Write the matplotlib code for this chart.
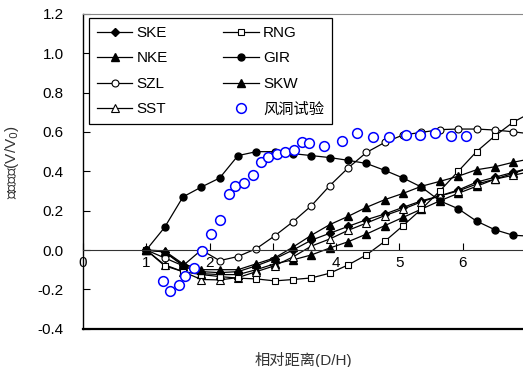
import matplotlib
matplotlib.use("Agg")
import matplotlib.pyplot as plt
from matplotlib.ticker import FormatStrFormatter

plt.rcParams['font.family'] = ['Liberation Sans', 'Noto Sans CJK SC']
plt.rcParams['font.size'] = 10

dist = [1.00, 1.29, 1.58, 1.87, 2.16, 2.45, 2.74, 3.03, 3.32, 3.61, 3.90,
        4.19, 4.48, 4.77, 5.06, 5.35, 5.64, 5.93, 6.22, 6.51, 6.80, 7.09]

ske = [0, -0.01, -0.075, -0.11, -0.115, -0.11, -0.08, -0.045, 0.0, 0.05, 0.085,
       0.12, 0.154, 0.183, 0.217, 0.25, 0.275, 0.305, 0.345, 0.37, 0.395, 0.42]
nke = [0, -0.01, -0.08, -0.12, -0.125, -0.125, -0.10, -0.07, -0.05, -0.025, 0.01,
       0.042, 0.081, 0.124, 0.166, 0.208, 0.25, 0.288, 0.324, 0.36, 0.39, 0.42]
szl = [0, -0.04, -0.08, 0.0, -0.054, -0.033, 0.007, 0.072, 0.144, 0.225, 0.327,
       0.417, 0.496, 0.547, 0.585, 0.598, 0.612, 0.615, 0.615, 0.61, 0.601, 0.59]
sst = [0, -0.075, -0.11, -0.15, -0.152, -0.14, -0.11, -0.08, -0.035, 0.02, 0.056,
       0.10, 0.137, 0.175, 0.208, 0.245, 0.275, 0.30, 0.335, 0.36, 0.38, 0.40]
rng = [0, -0.08, -0.11, -0.125, -0.135, -0.143, -0.147, -0.157, -0.15, -0.142, -0.118,
       -0.076, -0.025, 0.044, 0.124, 0.208, 0.30, 0.40, 0.50, 0.58, 0.65, 0.70]
gir = [0, 0.115, 0.27, 0.32, 0.366, 0.48, 0.50, 0.50, 0.49, 0.48, 0.47,
       0.456, 0.44, 0.405, 0.366, 0.32, 0.25, 0.21, 0.147, 0.103, 0.075, 0.07]
skw = [0, -0.005, -0.07, -0.10, -0.10, -0.10, -0.07, -0.04, 0.015, 0.075, 0.129,
       0.171, 0.217, 0.256, 0.288, 0.324, 0.349, 0.375, 0.408, 0.423, 0.446, 0.465]

wt_x = [1.26, 1.37, 1.52, 1.61, 1.75, 1.88, 2.02, 2.16, 2.30, 2.41, 2.55, 2.69,
        2.82, 2.93, 3.06, 3.20, 3.34, 3.46, 3.57, 3.81, 4.10, 4.33, 4.58, 4.83,
        5.10, 5.32, 5.56, 5.81, 6.05]
wt_y = [-0.158, -0.208, -0.178, -0.134, -0.093, -0.003, 0.08, 0.155, 0.283, 0.327,
        0.342, 0.381, 0.446, 0.474, 0.486, 0.497, 0.508, 0.548, 0.542, 0.53, 0.554,
        0.593, 0.576, 0.576, 0.585, 0.585, 0.596, 0.581, 0.581]

fig = plt.figure(figsize=(5.23, 3.67), dpi=100)
ax = fig.add_axes([0.1587, 0.1044, 0.8413, 0.8575])

lw = 0.9
ax.plot(dist, ske, '-', color='k', lw=lw, marker='D', ms=4, mfc='k', label='SKE')
ax.plot(dist, nke, '-', color='k', lw=lw, marker='^', ms=6, mfc='k', label='NKE')
ax.plot(dist, szl, '-', color='k', lw=lw, marker='o', ms=5, mfc='white', mew=0.8, label='SZL')
ax.plot(dist, sst, '-', color='k', lw=lw, marker='^', ms=6, mfc='white', mew=0.8, label='SST')
ax.plot(dist, rng, '-', color='k', lw=lw, marker='s', ms=5, mfc='white', mew=0.8, label='RNG')
ax.plot(dist, gir, '-', color='k', lw=lw, marker='o', ms=5, mfc='k', label='GIR')
ax.plot(dist, skw, '-', color='k', lw=lw, marker='^', ms=6, mfc='k', label='SKW')
ax.plot(wt_x, wt_y, 'o', ms=7, mfc='white', mec='#0000ff', mew=1.1,
        zorder=5, label='风洞试验')

ax.set_xlim(0, 6.955)
ax.set_ylim(-0.4, 1.2)
ax.set_xticks(range(0, 7))
ax.set_yticks([-0.4, -0.2, 0.0, 0.2, 0.4, 0.6, 0.8, 1.0, 1.2])
ax.yaxis.set_major_formatter(FormatStrFormatter('%.1f'))

ax.spines['bottom'].set_position(('data', 0))
ax.spines['bottom'].set_color('#333333')
ax.spines['right'].set_visible(False)
ax.spines['top'].set_color('#888888')
ax.spines['left'].set_linewidth(1.0)
ax.axhline(-0.4, color='k', lw=1.6, clip_on=False)

ax.tick_params(axis='x', direction='in', length=5, pad=4, labelsize=11)
ax.tick_params(axis='y', direction='in', length=5, pad=14, labelsize=11)

ax.set_ylabel('相对速度(V/V$_0$)', fontsize=11, color='#333333')
ax.yaxis.set_label_coords(-0.14, 0.53)
ax.set_xlabel('相对距离(D/H)', fontsize=11, color='#333333')
ax.xaxis.set_label_coords(0.5, -0.075)

leg = ax.legend(ncol=2, loc='upper left', bbox_to_anchor=(0.0143, 0.986, 0.551, 0.0),
                mode='expand', fancybox=False, edgecolor='k', framealpha=1,
                fontsize=11, handlelength=2.3, labelspacing=0.75,
                borderpad=0.5, handletextpad=0.3, borderaxespad=0)
leg.get_frame().set_linewidth(0.9)

fig.savefig('out.png', dpi=100)
